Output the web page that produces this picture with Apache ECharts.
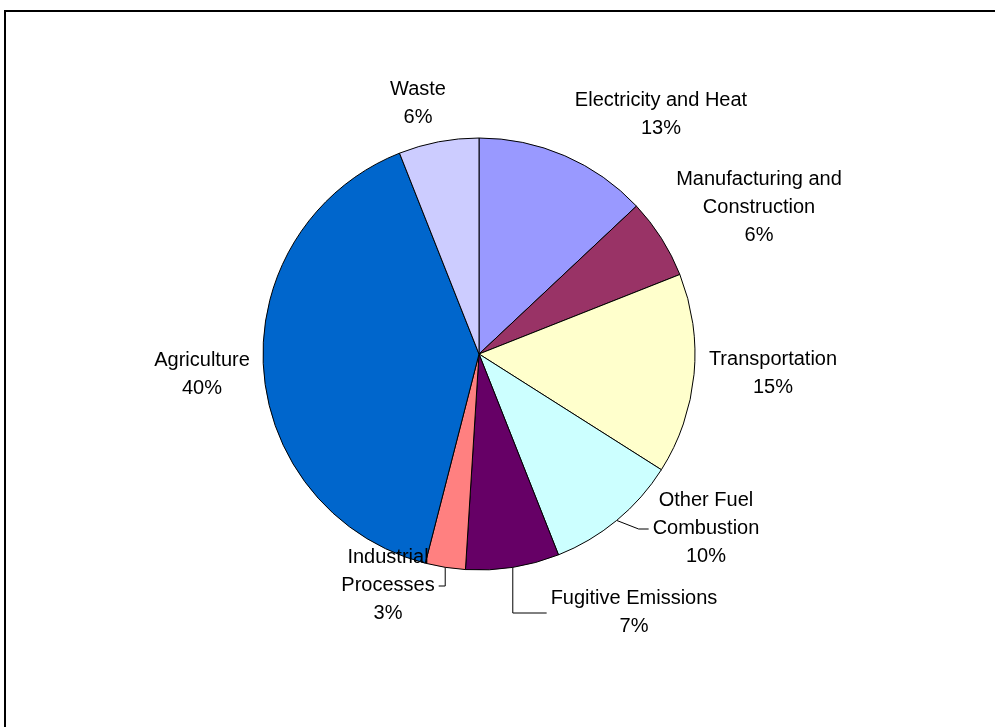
<!DOCTYPE html>
<html>
<head>
<meta charset="utf-8">
<style>
  html, body { margin: 0; padding: 0; background: #fff; }
  #chart { width: 995px; height: 727px; }
</style>
<script src="https://cdn.jsdelivr.net/npm/echarts@6/dist/echarts.min.js"></script>
</head>
<body>
<div id="chart"></div>
<script>
// Greenhouse gas emissions by sector (share of total, %)
const sectors = [
  'Electricity and Heat',
  'Manufacturing and\nConstruction',
  'Transportation',
  'Other Fuel\nCombustion',
  'Fugitive Emissions',
  'Industrial\nProcesses',
  'Agriculture',
  'Waste'
];
const shares = [13, 6, 15, 10, 7, 3, 40, 6];
const sliceColors = ['#9999FF', '#993366', '#FFFFCC', '#CCFFFF', '#660066', '#FF8080', '#0066CC', '#CCCCFF'];

// Which labels sit away from their slice and get a leader line
const useLeader = [false, false, false, true, true, true, false, false];

// Pie geometry and label placement (offset of each label's centre from the pie centre)
const pieCenter = [479, 354];
const pieRadius = 216;
const labelOffsets = [
  [182, -240], [280, -147], [294, 19], [227, 174],
  [155, 258], [-91, 231], [-277, 20], [-61, -251]
];

// Mid-angle of each slice (clockwise from 12 o'clock), from the shares
const total = shares.reduce((a, b) => a + b, 0);
const midAngles = [];
{
  let acc = 0;
  shares.forEach(v => {
    midAngles.push((acc + v / 2) / total * Math.PI * 2);
    acc += v;
  });
}

const chart = echarts.init(document.getElementById('chart'), null, { renderer: 'canvas' });

chart.setOption({
  animation: false,
  backgroundColor: '#ffffff',
  graphic: [{
    type: 'rect',
    shape: { x: 5, y: 11, width: 1100, height: 800 },
    style: { fill: 'none', stroke: '#000', lineWidth: 2 },
    silent: true
  }],
  series: [{
    type: 'pie',
    center: pieCenter,
    radius: pieRadius,
    startAngle: 90,
    clockwise: true,
    avoidLabelOverlap: false,
    data: sectors.map((name, i) => ({
      name: name,
      value: shares[i],
      itemStyle: { color: sliceColors[i] },
      labelLine: { show: useLeader[i] }
    })),
    itemStyle: { borderColor: '#000', borderWidth: 1 },
    label: {
      show: true,
      position: 'outside',
      formatter: p => p.name + '\n' + p.value + '%',
      fontFamily: '"Liberation Sans", Arial, sans-serif',
      fontSize: 20,
      lineHeight: 28,
      color: '#000',
      align: 'center'
    },
    labelLine: {
      show: true,
      lineStyle: { color: '#000', width: 1 }
    },
    labelLayout: function (params) {
      const i = params.dataIndex;
      const off = labelOffsets[i];
      const cx = pieCenter[0] + off[0];
      const cy = pieCenter[1] + off[1];
      const result = {
        x: cx,
        y: cy,
        align: 'center',
        verticalAlign: 'middle',
        hideOverlap: false
      };
      if (useLeader[i]) {
        // Leader: from the arc midpoint, elbow, then a level run to the label block
        const a = midAngles[i];
        const p0 = [pieCenter[0] + pieRadius * Math.sin(a), pieCenter[1] - pieRadius * Math.cos(a)];
        const halfW = params.labelRect.width / 2;
        const side = p0[0] < cx ? -1 : 1;
        const p2 = [cx + side * (halfW + 4), cy + 1];
        const p1 = Math.abs(Math.sin(a)) < 0.5
          ? [p0[0], p2[1]]                 // near the bottom: drop straight down
          : [p2[0] + side * 10, p2[1]];    // otherwise: slant, then a short level run
        result.labelLinePoints = [p0, p1, p2];
      }
      return result;
    },
    emphasis: { disabled: true }
  }]
});
</script>
</body>
</html>
